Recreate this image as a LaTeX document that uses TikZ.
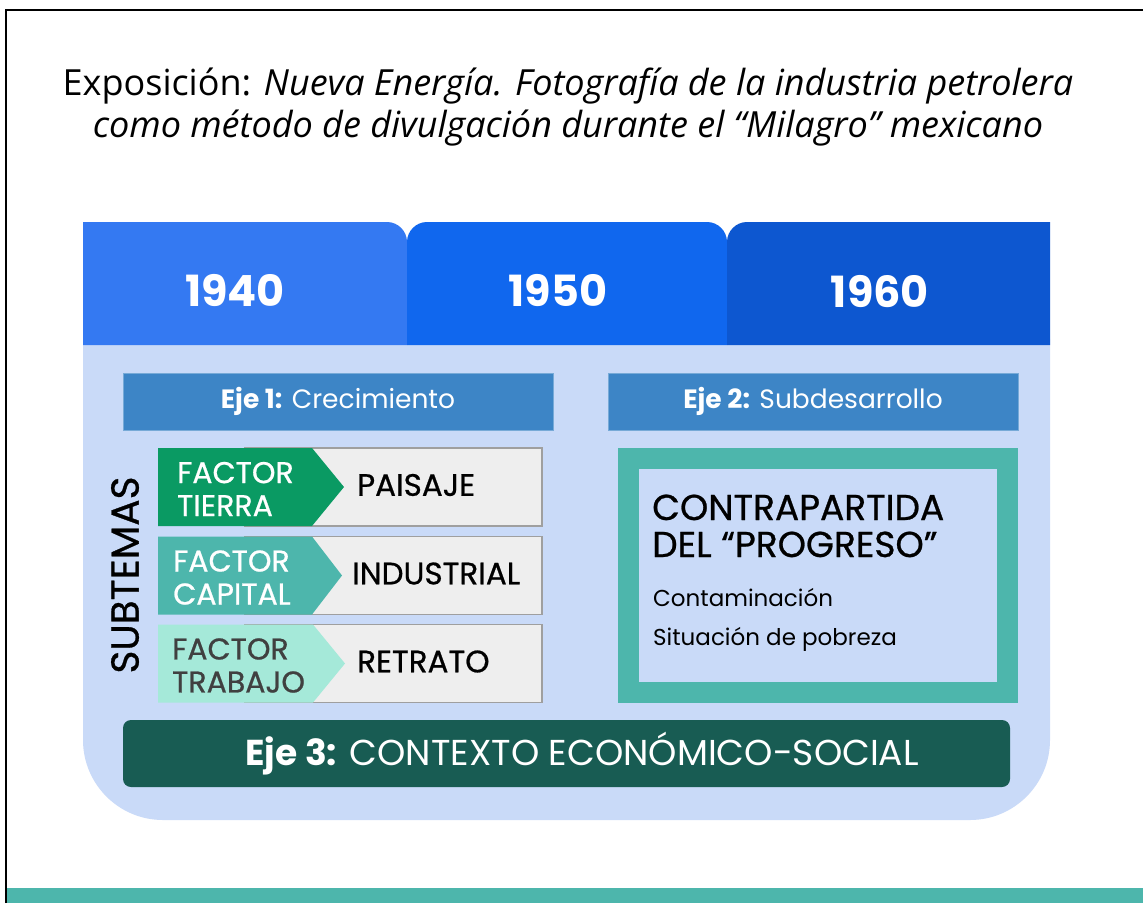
\documentclass[tikz,border=0pt]{standalone}
\usepackage{fontspec}
\setmainfont{Poppins}
\newfontfamily\titlefont{Open Sans}
\newfontfamily\medfont[FakeBold=0.7]{Poppins}
\usetikzlibrary{positioning}

\definecolor{tabA}{HTML}{3479F2}
\definecolor{tabB}{HTML}{1067EE}
\definecolor{tabC}{HTML}{0D57D0}
\definecolor{panel}{HTML}{C9DAF8}
\definecolor{ejehead}{HTML}{3D85C6}
\definecolor{tierra}{HTML}{0A9A63}
\definecolor{capital}{HTML}{4DB6AC}
\definecolor{trabajo}{HTML}{A5E9D9}
\definecolor{grisbox}{HTML}{EEEEEE}
\definecolor{ejetres}{HTML}{185C53}
\definecolor{banda}{HTML}{4DB6AC}

\begin{document}
\begin{tikzpicture}[x=1pt,y=-1pt,
  yeartext/.style={text=white,font=\fontsize{43}{43}\selectfont\bfseries},
  ejebox/.style={fill=ejehead,draw=ejehead!70!white,line width=0.6pt,text=white,
    minimum height=57pt,font=\fontsize{26.5}{26.5}\selectfont},
  subbox/.style={fill=grisbox,draw=gray!75,line width=1.2pt,minimum width=297pt,minimum height=78pt},
  factortext/.style={anchor=west,align=left,inner sep=0pt,font=\medfont\fontsize{30}{33}\selectfont},
  temalabel/.style={anchor=west,inner sep=0pt,font=\medfont\fontsize{31}{31}\selectfont}]

\useasboundingbox (0,0) rectangle (1143,903);
\fill[white] (0,0) rectangle (1143,903);

% marco y banda inferior
\draw[line width=2.5pt] (6,903) -- (6,10) -- (1143,10);
\fill[banda] (7,888) rectangle (1143,903);

% titulo
\node[align=center,font=\titlefont\fontsize{36}{42}\selectfont] (titulo) at (568,107)
  {Exposición: \textit{Nueva Energía. Fotografía de la industria petrolera}\\
   \textit{como método de divulgación durante el “Milagro” mexicano}};

% fondo
\fill[panel,rounded corners=80pt] (83,260) rectangle (1050,820);

% pestañas de decadas
\fill[tabA] (83,222) -- (387,222) .. controls (398,222) and (407,231) .. (407,242) -- (407,345) -- (83,345) -- cycle;
\fill[tabB] (407,345) -- (407,242) .. controls (407,231) and (416,222) .. (427,222) -- (707,222)
  .. controls (718,222) and (727,231) .. (727,242) -- (727,345) -- cycle;
\fill[tabC] (727,345) -- (727,242) .. controls (727,231) and (736,222) .. (747,222) -- (1050,222) -- (1050,345) -- cycle;
\node[yeartext] (y1940) at (235,290) {1940};
\node[yeartext] (y1950) at (558,290) {1950};
\node[yeartext] (y1960) at (880,292) {1960};

% ejes
\node[ejebox,minimum width=430pt] (eje1) at (338,401.5) {\raisebox{-3pt}{\textbf{Eje 1:} Crecimiento}};
\node[ejebox,minimum width=410pt] (eje2) at (813,401.5) {\raisebox{-3pt}{\textbf{Eje 2:} Subdesarrollo}};

% subtemas
\node[subbox] (paisaje) at (393.5,487) {};
\node[subbox] (industrial) at (393.5,575.5) {};
\node[subbox] (retrato) at (393.5,663.5) {};

\fill[tierra] (158,448) -- (312,448) -- (344,487) -- (312,526) -- (158,526) -- cycle;
\fill[capital] (158,536.5) -- (312,536.5) -- (342,575.5) -- (312,614.5) -- (158,614.5) -- cycle;
\fill[trabajo] (158,624.5) -- (313,624.5) -- (345,663.5) -- (313,702.5) -- (158,702.5) -- cycle;

\node[factortext,text=white] (ftierra) at (177,489) {FACTOR\\TIERRA};
\node[factortext,text=white] (fcapital) at (173,577.5) {FACTOR\\CAPITAL};
\node[factortext,text=black!75] (ftrabajo) at (172,665.5) {FACTOR\\TRABAJO};

\node[temalabel] (tpaisaje) at (357,485) {PAISAJE};
\node[temalabel] (tindustrial) at (352,573.5) {INDUSTRIAL};
\node[temalabel] (tretrato) at (357,661.5) {RETRATO};

\node[rotate=90,font=\medfont\fontsize{39}{39}\selectfont] (subtemas) at (125,575) {SUBTEMAS};

% contrapartida
\node[draw=banda,line width=21pt,fill=panel,minimum width=379pt,minimum height=234pt] (contra) at (818,575.5) {};
\node[anchor=base west,inner sep=0pt,font=\medfont\fontsize{36}{36}\selectfont] (contra1) at (652,520) {CONTRAPARTIDA};
\node[anchor=base west,inner sep=0pt,font=\medfont\fontsize{36}{36}\selectfont] (contra2) at (652,557) {DEL “PROGRESO”};
\node[anchor=base west,inner sep=0pt,font=\fontsize{23}{23}\selectfont] (contam) at (653,606) {Contaminación};
\node[anchor=base west,inner sep=0pt,font=\fontsize{23}{23}\selectfont] (pobreza) at (653,645) {Situación de pobreza};

% eje 3
\node[fill=ejetres,rounded corners=8pt,minimum width=887pt,minimum height=67pt,text=white,
  font=\fontsize{36}{36}\selectfont] (eje3) at (566.5,753.5) {\hspace{31pt}\textbf{Eje 3:} CONTEXTO ECONÓMICO-SOCIAL};
\end{tikzpicture}
\end{document}
